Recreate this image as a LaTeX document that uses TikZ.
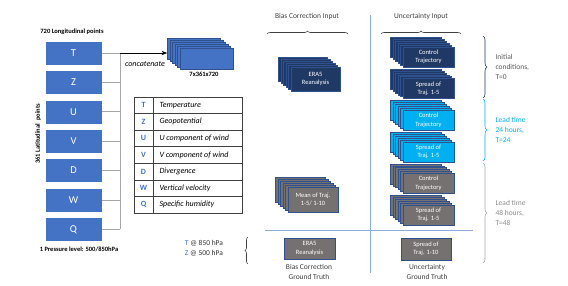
\documentclass[tikz,border=0pt]{standalone}
\usepackage{fontspec}
\setmainfont{Carlito}
\usepackage{xcolor}
\usetikzlibrary{arrows.meta,positioning,decorations.pathreplacing}

\definecolor{varblue}{HTML}{4472C4}
\definecolor{varedge}{HTML}{2F528F}
\definecolor{navybox}{HTML}{203864}
\definecolor{cyanbox}{HTML}{00B0F0}
\definecolor{greybox}{HTML}{767171}
\definecolor{divblue}{HTML}{8FAADC}
\definecolor{leadgrey}{HTML}{A6A6A6}
\definecolor{txtgrey}{HTML}{595959}
\definecolor{leadtxt}{HTML}{8C8C8C}

% stack of layers: name, style, front centre, label
\newcommand{\layerstack}[4]{%
  \coordinate (#1-c) at (#3);
  \foreach \k in {5,...,1}
    \node[layer, #2] (#1-\k) at ([shift={(-2.5*\k,-1.9*\k)}]#1-c) {};
  \node[layer, #2] (#1) at (#1-c) {#4};
}

\begin{document}
\begin{tikzpicture}[x=1pt, y=-1pt, every node/.style={font=\fontsize{7.5}{10}\selectfont},
    varbox/.style={draw=white, fill=varblue, text=white, minimum width=57pt,
                   minimum height=24pt, font=\fontsize{10.5}{12}\selectfont},
    layer/.style={draw=varedge, line width=0.5pt, inner sep=1pt, align=center,
                  text=white, font=\fontsize{6.5}{8.5}\selectfont},
    unc/.style={minimum width=51pt, minimum height=20pt},
    conn/.style={draw=leadgrey, line width=0.7pt},
    brace/.style={decorate, decoration={brace, amplitude=3pt}, line width=0.6pt},
    divider/.style={draw=divblue, line width=0.8pt},
    tabline/.style={draw=black!75, line width=0.6pt},
    boldlbl/.style={font=\bfseries\fontsize{6.5}{8}\selectfont},
    node distance=5pt, >=Stealth]
  \useasboundingbox (0,0) rectangle (568,285);

  % input variables
  \node[varbox] (t) at (73.5,53) {T};
  \node[varbox, below=of t] (z) {Z};
  \node[varbox, below=of z] (u) {U};
  \node[varbox, below=of u] (v) {V};
  \node[varbox, below=of v] (d) {D};
  \node[varbox, below=of d] (w) {W};
  \node[varbox, below=of w] (q) {Q};
  \node[boldlbl] (lon) at (72,32) {720 Longitudinal points};
  \node[boldlbl, rotate=90] (lat) at (38,134) {361 Latitudinal\ \ points};
  \node[boldlbl] (lev) at (79,249) {1 Pressure level: 500/850hPa};

  \coordinate (bus) at (120,0);
  \foreach \n in {t,z,u,v,d,w,q}
    \draw[conn] (\n.east) -- (\n.east -| bus);
  \draw[conn] (t.east -| bus) -- (q.east -| bus);

  \layerstack{cat}{fill=varblue, minimum width=53pt, minimum height=21pt}{206.5,58.5}{}
  \draw[->, line width=0.6pt] (t.east -| bus) -- (t.east -| cat-5.west);
  \node[font=\itshape\fontsize{8}{10}\selectfont] (concat) at (145,64) {concatenate};
  \node[boldlbl] (catdim) at (204,74) {7x361x720};

  % legend
  \draw[tabline] (134,97) rectangle (242,213);
  \draw[tabline] (153,97) -- (153,213);
  \foreach \r in {1,...,6}
    \draw[tabline] (134,97+16.571*\r) -- (242,97+16.571*\r);
  \foreach \l/\txt [count=\r] in {T/Temperature, Z/Geopotential, U/U component of wind,
      V/V component of wind, D/Divergence, W/Vertical velocity, Q/Specific humidity}{
    \node[text=varblue, font=\bfseries\fontsize{8}{10}\selectfont] (key-\r) at (143.5,97+16.571*\r-8.29) {\l};
    \node[anchor=west, font=\itshape\fontsize{8}{10}\selectfont] (desc-\r) at (156,97+16.571*\r-8.29) {\txt};
  }

  % headers
  \node[text=black!75] (bcin) at (307,17) {Bias Correction Input};
  \node[text=black!75] (ucin) at (421,17) {Uncertainty Input};
  \coordinate (bcl) at (267,34); \coordinate (bcr) at (348,34);
  \coordinate (ucl) at (381,34); \coordinate (ucr) at (461,34);
  \draw[brace, draw=black!75] (bcl) -- (bcr);
  \draw[brace, draw=black!75] (ucl) -- (ucr);

  % dividers
  \coordinate (vtop) at (370,15); \coordinate (vbot) at (370,273);
  \coordinate (hl) at (265,230); \coordinate (hr) at (473,230);
  \draw[divider] (vtop) -- (vbot);
  \draw[divider] (hl) -- (hr);

  % bias correction column
  \layerstack{era}{fill=navybox, minimum width=49pt, minimum height=24pt}{315.5,79}{ERA5\\Reanalysis}
  \layerstack{mean}{fill=greybox, minimum width=50pt, minimum height=25pt}{313,199.5}{Mean of Traj.\\1-5/ 1-10}
  \node[layer, fill=greybox, minimum width=51pt, minimum height=21pt] (eragt) at (309.5,248.5) {ERA5\\Reanalysis};
  \node[align=center, text=black!75] (bcgt) at (309,272) {Bias Correction\\Ground Truth};

  % uncertainty column
  \layerstack{ctl0}{unc, fill=navybox}{428.5,57}{Control\\Trajectory}
  \layerstack{spr0}{unc, fill=navybox}{428.5,88.6}{Spread of\\Traj. 1-5}
  \layerstack{ctl24}{unc, fill=cyanbox}{428.5,120.2}{Control\\Trajectory}
  \layerstack{spr24}{unc, fill=cyanbox}{428.5,151.8}{Spread of\\Traj. 1-5}
  \layerstack{ctl48}{unc, fill=greybox}{428.5,183.4}{Control\\Trajectory}
  \layerstack{spr48}{unc, fill=greybox}{428.5,215}{Spread of\\Traj. 1-5}
  \node[layer, fill=greybox, minimum width=50pt, minimum height=22pt] (sprgt) at (426,249) {Spread of\\Traj. 1-10};
  \node[align=center, text=black!75] (ucgt) at (427,272) {Uncertainty\\Ground Truth};

  % lead times
  \coordinate (b0t) at (483,36);  \coordinate (b0b) at (483,98);
  \coordinate (b1t) at (483,99);  \coordinate (b1b) at (483,161);
  \coordinate (b2t) at (483,163); \coordinate (b2b) at (483,263);
  \draw[brace, decoration={amplitude=4pt}, draw=navybox] (b0t) -- (b0b);
  \draw[brace, decoration={amplitude=4pt}, draw=cyanbox] (b1t) -- (b1b);
  \draw[brace, decoration={amplitude=4pt}, draw=leadgrey] (b2t) -- (b2b);
  \node[anchor=west, align=left, text=txtgrey] (lt0) at (492,67) {Initial\\conditions,\\T=0};
  \node[anchor=west, align=left, text=cyanbox] (lt24) at (492,130) {Lead time\\24 hours,\\T=24};
  \node[anchor=west, align=left, text=leadtxt] (lt48) at (492,213) {Lead time\\48 hours,\\T=48};

  % target levels
  \node[align=left, text=black!80] (lvls) at (204,248) {\textcolor{varblue}{T} @ 850 hPa\\\textcolor{varblue}{Z} @ 500 hPa};
  \coordinate (lb) at (248,264); \coordinate (lt) at (248,237);
  \draw[brace, draw=black!75] (lb) -- (lt);
\end{tikzpicture}
\end{document}
